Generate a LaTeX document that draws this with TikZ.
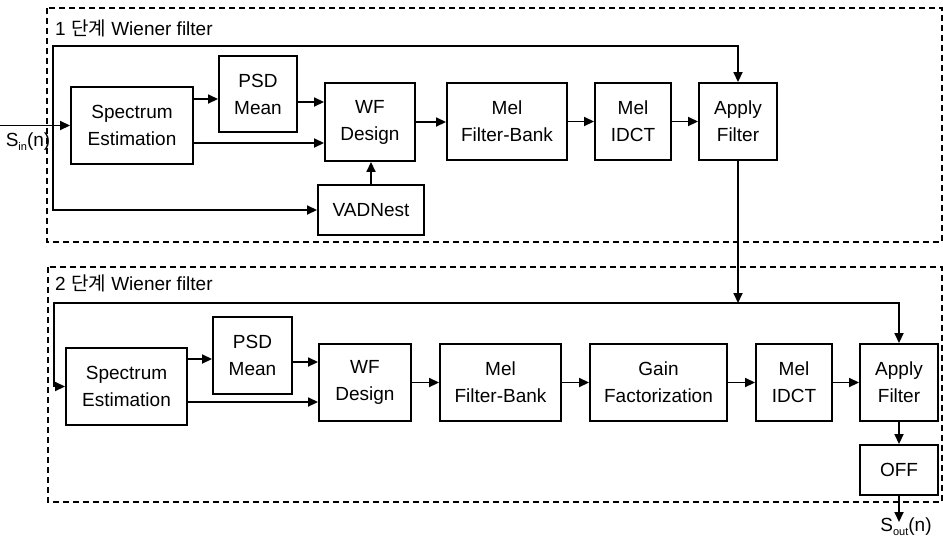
\documentclass[tikz,border=0pt]{standalone}
\usepackage{fontspec}
\setmainfont{Liberation Sans}
\newfontfamily\krfont{Noto Sans CJK KR}
\usetikzlibrary{arrows.meta,calc}
\begin{document}
\begin{tikzpicture}[x=1pt,y=-1pt,
  blk/.style={draw,line width=1.9pt,inner sep=0pt,align=center,
    font=\fontsize{19}{27}\selectfont},
  arr/.style={line width=1.7pt,-{Triangle[length=10pt,width=9pt]}},
  stagebox/.style={draw,line width=1.6pt,dash pattern=on 6pt off 4pt},
  lbl/.style={inner sep=0pt,font=\fontsize{19}{27}\selectfont}]
\useasboundingbox (0,0) rectangle (943,539);
% stage frames
\draw[stagebox] (47,8) rectangle (942,242);
\draw[stagebox] (48,267) rectangle (942,502);
\node[lbl,anchor=base west] (t1lbl) at (55,35) {1 {\krfont 단계} Wiener filter};
\node[lbl,anchor=base west] (t2lbl) at (55,290) {2 {\krfont 단계} Wiener filter};
% stage 1 blocks
\node[blk,minimum width=122,minimum height=77] (se1) at (132,125.5) {Spectrum\\Estimation};
\node[blk,minimum width=78,minimum height=76] (psd1) at (258,94) {PSD\\Mean};
\node[blk,minimum width=90,minimum height=78] (wf1) at (370,122) {WF\\Design};
\node[blk,minimum width=106,minimum height=50] (vad) at (371,210) {VADNest};
\node[blk,minimum width=120,minimum height=77] (mfb1) at (507,121.5) {Mel\\Filter-Bank};
\node[blk,minimum width=76,minimum height=77] (idct1) at (633,121.5) {Mel\\IDCT};
\node[blk,minimum width=78,minimum height=77] (ap1) at (738,121.5) {Apply\\Filter};
% stage 2 blocks
\node[blk,minimum width=121,minimum height=77] (se2) at (126.5,386.5) {Spectrum\\Estimation};
\node[blk,minimum width=79,minimum height=77] (psd2) at (252.5,355.5) {PSD\\Mean};
\node[blk,minimum width=92,minimum height=77] (wf2) at (365,382.5) {WF\\Design};
\node[blk,minimum width=121,minimum height=77] (mfb2) at (500.5,382.5) {Mel\\Filter-Bank};
\node[blk,minimum width=137,minimum height=77] (gain) at (658.5,382.5) {Gain\\Factorization};
\node[blk,minimum width=76,minimum height=77] (idct2) at (794,382.5) {Mel\\IDCT};
\node[blk,minimum width=78,minimum height=77] (ap2) at (899,382.5) {Apply\\Filter};
\node[blk,minimum width=78,minimum height=50] (off) at (899,470) {OFF};
% input / output
\coordinate (in1) at (0,125.5);
\coordinate (j1) at (53,125.5);
\coordinate (t1) at (53,46);
\node[lbl] (sin) at (28,142) {S\raisebox{-3.5pt}{\fontsize{11}{11}\selectfont in}(n)};
\coordinate (sout) at (899,522);
\node[lbl] (soutl) at (906,527) {S\raisebox{-3.5pt}{\fontsize{11}{11}\selectfont out}(n)};
% stage 1 connectors
\draw[arr] (in1) -- (se1.west);
\draw[arr] (j1) -- (t1) -| (ap1.north);
\draw[arr] (j1) |- (vad.west);
\draw[arr] (se1.east |- 0,99) -- (psd1.west |- 0,99);
\draw[arr] (psd1.east |- 0,102) -- (wf1.west |- 0,102);
\draw[arr] (se1.east |- 0,143) -- (wf1.west |- 0,143);
\draw[arr] (vad.north) -- (vad.north |- wf1.south);
\draw[arr] (wf1.east) -- (mfb1.west |- wf1.east);
\draw[arr] (mfb1.east) -- (idct1.west);
\draw[arr] (idct1.east) -- (ap1.west);
% link between stages
\coordinate (j2) at (738,303);
\coordinate (t2) at (54,303);
\draw[arr] (ap1.south) -- (j2);
\draw[arr] (j2) -| (ap2.north);
\draw[arr] (j2) -- (t2) |- (se2.west);
% stage 2 connectors
\draw[arr] (se2.east |- 0,359) -- (psd2.west |- 0,359);
\draw[arr] (psd2.east |- 0,362) -- (wf2.west |- 0,362);
\draw[arr] (se2.east |- 0,402) -- (wf2.west |- 0,402);
\draw[arr] (wf2.east) -- (mfb2.west);
\draw[arr] (mfb2.east) -- (gain.west);
\draw[arr] (gain.east) -- (idct2.west);
\draw[arr] (idct2.east) -- (ap2.west);
\draw[arr] (ap2.south) -- (off.north);
\draw[arr] (off.south) -- (sout);
\end{tikzpicture}
\end{document}
